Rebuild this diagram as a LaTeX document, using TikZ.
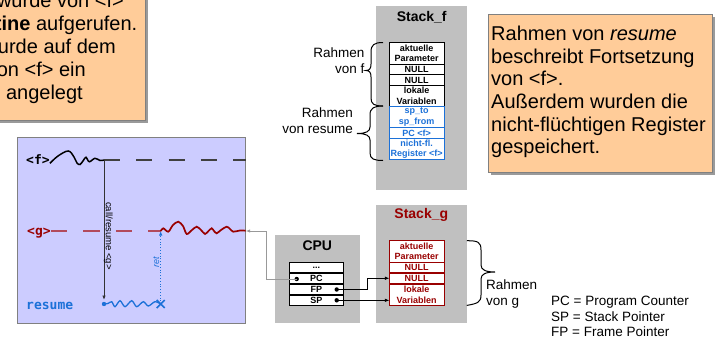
\documentclass[tikz,border=0pt]{standalone}
\usepackage{fontspec}
\setmainfont{Liberation Sans}
\newfontfamily\codefont{DejaVu Sans Mono}
\usetikzlibrary{arrows.meta}

\definecolor{peach}{HTML}{FFCC99}
\definecolor{lavender}{HTML}{CCCCFF}
\definecolor{stackgray}{HTML}{C0C0C0}
\definecolor{edgegray}{HTML}{808080}
\definecolor{shadowgray}{HTML}{9A9A9A}
\definecolor{gred}{RGB}{153,0,0}
\definecolor{gdash}{RGB}{178,74,92}
\definecolor{resblue}{RGB}{28,113,216}

\tikzset{
  note/.style={fill=peach, draw=edgegray, line width=1pt},
  noteshadow/.style={fill=shadowgray},
  notetext/.style={inner sep=0pt, align=left, font=\fontsize{20}{22.6}\selectfont},
  procbox/.style={fill=lavender, draw=edgegray, line width=1pt, minimum width=228pt, minimum height=186pt, inner sep=0pt, outer sep=0pt},
  codelabel/.style={inner sep=0pt, font=\codefont\bfseries\fontsize{13}{15}\selectfont},
  stackbox/.style={fill=stackgray, inner sep=0pt, outer sep=0pt},
  stacktitle/.style={inner sep=0pt, font=\bfseries\fontsize{14}{16}\selectfont},
  cell/.style={draw, fill=white, line width=0.8pt, minimum width=54.5pt, inner sep=0pt, outer sep=0pt, align=center, font=\bfseries\fontsize{9}{10.3}\selectfont},
  onerow/.style={cell, minimum height=10.3pt},
  tworow/.style={cell, minimum height=21.4pt},
  fcell/.style={draw=resblue, text=resblue},
  gcell/.style={draw=gred, text=gred},
  regdot/.style={circle, fill, inner sep=0pt, minimum size=4.4pt},
  ptr/.style={line width=0.8pt, -{Latex[length=4.5pt,width=3.5pt]}},
  framelabel/.style={inner sep=0pt, font=\fontsize{13.5}{16}\selectfont},
  legendtext/.style={inner sep=0pt, align=left, font=\fontsize{13.5}{15.4}\selectfont},
  bracepath/.style={line width=1pt}
}

\begin{document}
\begin{tikzpicture}[x=1pt,y=-1pt]
\useasboundingbox (0,0) rectangle (717,340);
\clip (0,0) rectangle (717,340);

% note on the left, runs off the page
\fill[noteshadow] (-7,-7) rectangle (148,123);
\draw[note] (-10,-10) rectangle (145,120);
\node[notetext, anchor=base east] (noteA) at (124,7) {wurde von <f>};
\node[notetext, anchor=base east] (noteB) at (137.5,30.2) {\textbf{tine} aufgerufen.};
\node[notetext, anchor=base east] (noteC) at (116,53.4) {urde auf dem};
\node[notetext, anchor=base east] (noteD) at (86,76.6) {on <f> ein};
\node[notetext, anchor=base east] (noteE) at (83,99.8) {angelegt};

% note on the right (base = last line)
\fill[noteshadow] (491,17) rectangle (715,175);
\draw[note] (488,14) rectangle (712,172);
\node[notetext, anchor=base west] (resumenote) at (491,153.7) {Rahmen von \textit{resume}\\beschreibt Fortsetzung\\von <f>.\\Außerdem wurden die\\nicht-flüchtigen Register\\gespeichert.};

% coroutines
\node[procbox] (proc) at (131.7,230.3) {};
\node[codelabel, anchor=base west] (flabel) at (26,164.5) {<f>};
\node[codelabel, text=gred, anchor=base west] (glabel) at (27,235.5) {<g>};
\node[codelabel, text=resblue, anchor=base west] (reslabel) at (26,309) {resume};

\coordinate (fcall) at (104,160);   % f calls g
\coordinate (gret) at (160.7,231);  % g gets control back
\coordinate (rstart) at (104,304);
\coordinate (rstop) at (160.7,304);

% <f>
\draw[line width=1.5pt] plot[smooth, tension=0.6] coordinates {(50,163.3) (58,156) (68.3,151) (74,157) (77,163) (80,164.5) (83.3,160.5) (86,157.3) (89.3,161.7) (95,158.3) (100,160.5) (fcall)};
\draw[black!75, line width=1.4pt, dash pattern=on 16pt off 16.3pt] (fcall) -- (fcall -| proc.east);

% <g>
\draw[gdash, line width=1.4pt, dash pattern=on 16.5pt off 16pt] (glabel.east |- gret) -- (gret);
\draw[gred, line width=1.7pt] plot[smooth] coordinates {(gret) (163.3,228.3) (168.3,231.7) (173,225) (178.3,221.7) (183,226) (186.7,234) (192,230) (196.7,226.7) (201,230) (205,234) (208.5,231) (211.7,228.3) (214,231) (216.7,233.3) (221,230) (226.7,226.7) (230,229) (233.3,231.7) (240,230.5) (245.7,230.7)};

% resume
\draw[resblue, line width=1.3pt] plot[smooth] coordinates {(rstart) (108,303.5) (111.7,301.7) (115,306.7) (120,300.7) (125,306.7) (131.7,300.7) (136.7,306.7) (143.3,301.7) (148.3,306) (155,301.7) (rstop)};
\node[regdot, resblue] (resdot) at (rstart) {};
\draw[resblue, line width=1.6pt] ([shift={(-4,-4)}]rstop) -- ([shift={(4,4)}]rstop) ([shift={(-4,4)}]rstop) -- ([shift={(4,-4)}]rstop);

% call / ret
\draw[ptr, draw=black!80, line width=0.9pt, shorten >=4pt] (fcall) -- (rstart);
\node[inner sep=0pt, rotate=-90, font=\fontsize{9.5}{11}\selectfont] (calllabel) at (108.3,236) {call/resume <g>};
\draw[ptr, resblue, dotted, line width=1pt] (rstop) -- (gret);
\node[inner sep=0pt, rotate=90, text=resblue, font=\itshape\fontsize{9}{11}\selectfont] (retlabel) at (156.3,262) {ret};

% Stack_f
\node[stackbox, minimum width=90.5pt, minimum height=184pt] (stackf) at (421.5,98) {};
\node[stacktitle, anchor=base] (stackftitle) at (421.7,21.7) {Stack\_f};
\node[tworow, anchor=north] (fA) at (416.7,42.5) {aktuelle\\Parameter};
\node[onerow, anchor=north] (fN1) at (416.7,64) {NULL};
\node[onerow, anchor=north] (fN2) at (416.7,74.8) {NULL};
\node[tworow, anchor=north] (fL) at (416.7,85.2) {lokale\\Variablen};
\node[tworow, fcell, anchor=north] (fS) at (416.7,106.3) {sp\_to\\sp\_from};
\node[onerow, fcell, anchor=north] (fP) at (416.7,127.7) {PC <f>};
\node[tworow, fcell, anchor=north] (fR) at (416.7,138.4) {nicht-fl.\\Register <f>};

% Stack_g
\node[stackbox, minimum width=90.5pt, minimum height=118.5pt] (stackg) at (421.5,264.2) {};
\node[stacktitle, text=gred, anchor=base] (stackgtitle) at (421.3,218.3) {Stack\_g};
\node[tworow, gcell, anchor=north] (gA) at (416.7,240.7) {aktuelle\\Parameter};
\node[onerow, gcell, anchor=north] (gN1) at (416.7,262.2) {NULL};
\node[onerow, gcell, anchor=north] (gN2) at (416.7,273.1) {NULL};
\node[tworow, gcell, anchor=north] (gL) at (416.7,284) {lokale\\Variablen};

% CPU
\node[stackbox, minimum width=85pt, minimum height=88.3pt] (cpu) at (317.5,279.2) {};
\node[stacktitle, anchor=base] (cputitle) at (317.3,250) {CPU};
\node[onerow, anchor=north] (cdots) at (316.3,262.3) {...};
\node[onerow, anchor=north] (cpc) at (316.3,273.2) {PC};
\node[onerow, anchor=north] (cfp) at (316.3,284.2) {FP};
\node[onerow, anchor=north] (csp) at (316.3,295.2) {SP};
\node[regdot] (pcdot) at (296.7,279) {};
\node[regdot] (fpdot) at (336.7,289.5) {};
\node[regdot] (spdot) at (336.7,300.3) {};

% registers point into the frames
\draw[ptr] (fpdot.center) -- ++(30.5,0) |- (gN2.west);
\draw[ptr] (spdot.center) -- (spdot -| gL.west);
\draw[ptr, draw=black!40] (pcdot.center) -- ++(-30,0) |- (proc.east |- gret);

% braces and their labels (base = last line)
\draw[bracepath] (383,42.5) .. controls (374,42.5) and (371,45) .. (371,52) -- (371,64) .. controls (371,68.5) and (369.5,70.5) .. (366,70.5) .. controls (369.5,70.5) and (371,72.5) .. (371,77) -- (371,98) .. controls (371,104) and (374,106) .. (383,106);
\node[framelabel, anchor=base east, align=right] (rahmenf) at (364.5,73) {Rahmen\\von f};
\draw[bracepath] (383,106) .. controls (374,106) and (370,108) .. (370,115) -- (370,127) .. controls (370,131.5) and (366,133.5) .. (357,133.5) .. controls (366,133.5) and (370,135.5) .. (370,140) -- (370,153) .. controls (370,159) and (374,160.5) .. (383,160.5);
\node[framelabel, anchor=base east, align=right] (rahmenres) at (353,133.5) {Rahmen\\von resume};
\draw[bracepath] (stackg.east |- gA.north) .. controls (478,240.7) and (481,242) .. (481,250) -- (481,265) .. controls (481,270) and (486,272) .. (495,272) .. controls (486,272) and (481,274) .. (481,279) -- (481,295) .. controls (481,302) and (478,303.5) .. (stackg.east |- gL.south);
\node[framelabel, anchor=base west, align=left] (rahmeng) at (486,305) {Rahmen\\von g};

% legend
\node[legendtext, anchor=base west] (legend) at (551,336.7) {PC = Program Counter\\SP = Stack Pointer\\FP = Frame Pointer};

\end{tikzpicture}
\end{document}
